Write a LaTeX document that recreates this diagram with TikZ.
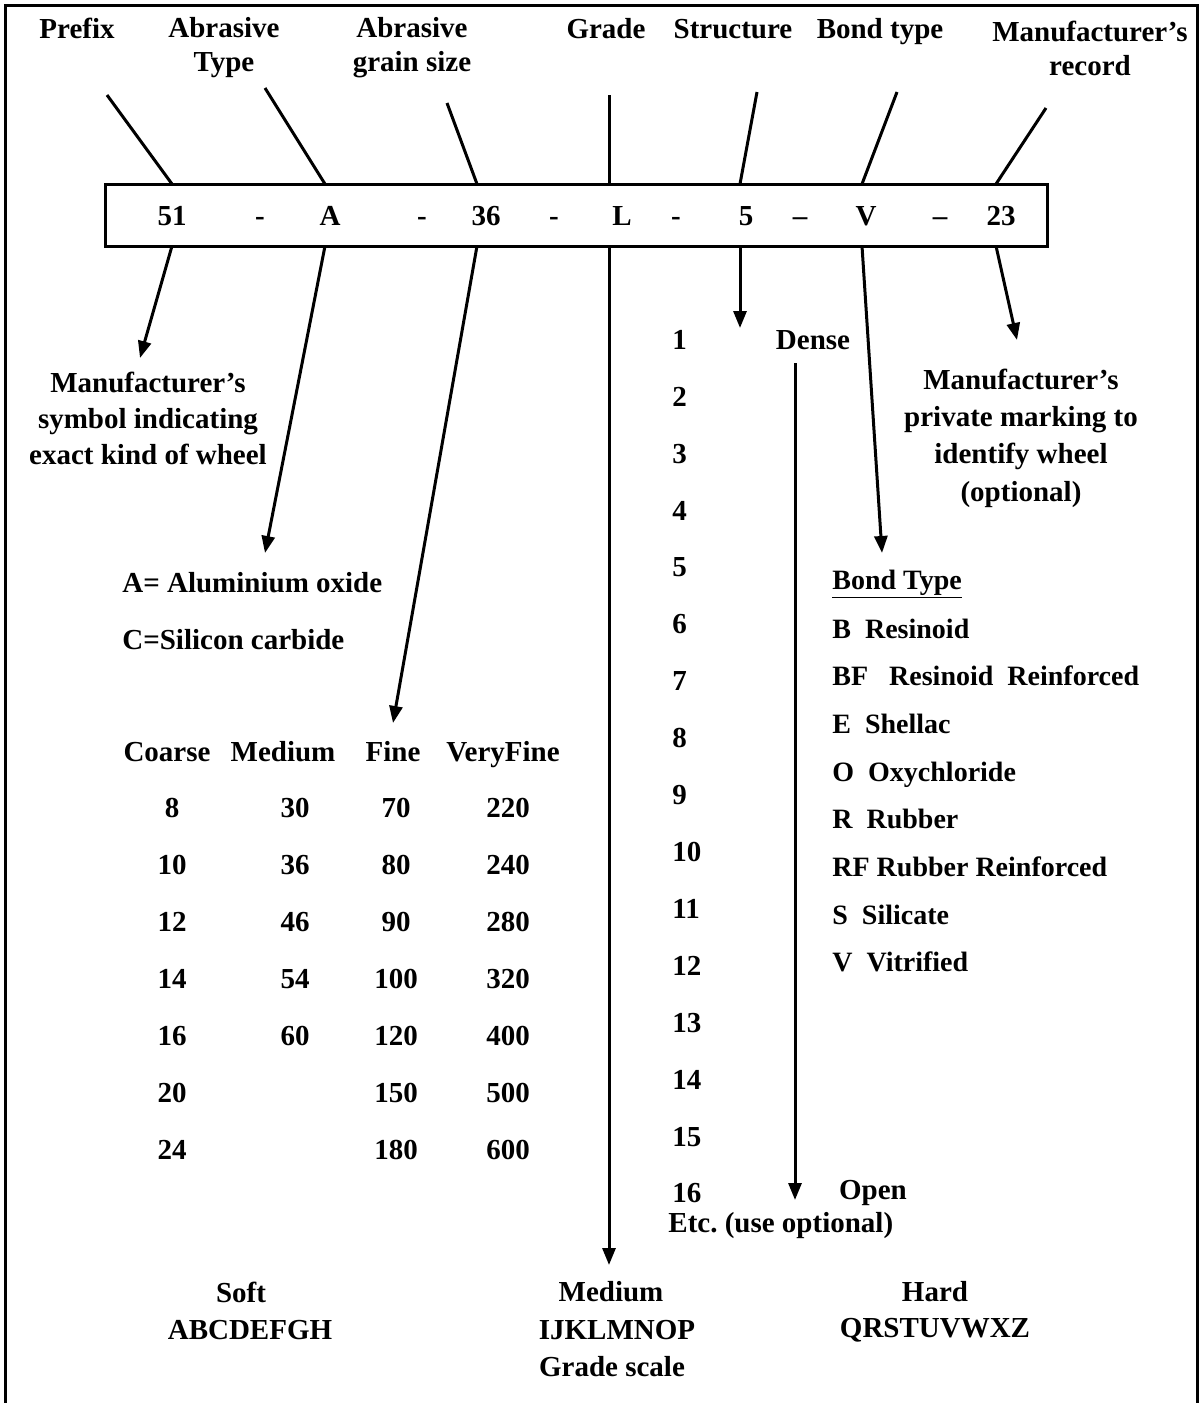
\documentclass[tikz,border=0pt]{standalone}
\usepackage{fontspec}
\setmainfont{Liberation Serif}
\usetikzlibrary{positioning,arrows.meta}

\begin{document}
\begin{tikzpicture}[x=0.5pt,y=-0.5pt,
		every node/.style={font=\fontsize{14.5}{18}\selectfont\bfseries,inner sep=0pt},
		lbl/.style={align=center},
		toplbl/.style={align=center,font=\fontsize{14.5}{17}\selectfont\bfseries},
		bondlbl/.style={anchor=base west,font=\fontsize{14}{17}\selectfont\bfseries},
		ln/.style={line width=1.5pt},
		arr/.style={line width=1.5pt,-{Triangle[length=8.5pt,width=6.5pt]}}]
		\useasboundingbox (0,0) rectangle (1201,1403);
		\draw[line width=1.5pt] (5,1403)--(5,5)--(1197,5)--(1197,1403);
		
		% labels on top
		\node[anchor=base] (prefix) at (77,38) {Prefix};
		\node[toplbl] (abrtype) at (224,48) {Abrasive\\Type};
		\node[toplbl] (grainsize) at (412,48) {Abrasive\\grain size};
		\node[anchor=base] (grade) at (606,38) {Grade};
		\node[anchor=base] (structure) at (733,38) {Structure};
		\node[anchor=base] (bondtype) at (880,38) {Bond type};
		\node[toplbl] (mrecord) at (1090,48) {Manufacturer’s\\record};
		
		% the marking
		\node[draw,line width=1.5pt,minimum width=471pt,minimum height=31pt] (code) at (576,215) {};
		\foreach \x/\t/\n in {172/51/c51,260/-/d1,330/A/cA,422/-/d2,486/36/c36,554/-/d3,622/L/cL,676/-/d4,746/5/c5,800/--/d5,866/V/cV,940/--/d6,1001/23/c23}
			\node[anchor=base] (\n) at (\x,225) {\t};
		
		\foreach \n/\x in {a/172,b/325,c/477,d/609,e/740,f/862,g/996}{
			\coordinate (\n top) at (\x,184);
			\coordinate (\n bot) at (\x,246);
		}
		\coordinate (pa) at (107,95);
		\coordinate (pb) at (265,88);
		\coordinate (pc) at (447,103);
		\coordinate (pd) at (609,95);
		\coordinate (pe) at (757,92);
		\coordinate (pf) at (897,92);
		\coordinate (pg) at (1046,108);
		\foreach \n in {a,b,c,d,e,f,g}
			\draw[ln] (p\n)--(\n top);
		
		% what each part means
		\node[lbl] (msym) at (148,418) {Manufacturer’s\\symbol indicating\\exact kind of wheel};
		\node[anchor=west] (alox) at (122,583) {A= Aluminium oxide};
		\node[anchor=west] (sic) at (122,640) {C=Silicon carbide};
		\node[lbl,font=\fontsize{14.5}{18.7}\selectfont\bfseries] (mpriv) at (1021,438) {Manufacturer’s\\private marking to\\identify wheel\\(optional)};
		
		\coordinate (ta) at (140,358);
		\coordinate (tb) at (265,553);
		\coordinate (tc) at (393,723);
		\coordinate (td) at (609,1265);
		\coordinate (te) at (740,328);
		\coordinate (tf) at (882,553);
		\coordinate (tg) at (1017,340);
		\foreach \n in {a,b,c,d,e,f,g}
			\draw[arr] (\n bot)--(t\n);
		
		% grain size table
		\node[anchor=base] (hc) at (167,761) {Coarse};
		\node[anchor=base] (hm) at (283,761) {Medium};
		\node[anchor=base] (hf) at (393,761) {Fine};
		\node[anchor=base] (hv) at (503,761) {VeryFine};
		\foreach \c/\m/\f/\v [count=\i] in {8/30/70/220,10/36/80/240,12/46/90/280,14/54/100/320,16/60/120/400,20//150/500,24//180/600}{
			\node (gc\i) at (172,{808+(\i-1)*57}) {\c};
			\node (gm\i) at (295,{808+(\i-1)*57}) {\m};
			\node (gf\i) at (396,{808+(\i-1)*57}) {\f};
			\node (gv\i) at (508,{808+(\i-1)*57}) {\v};
		}
		
		% structure numbers
		\foreach \n in {1,...,16}
			\node[anchor=west] (s\n) at (672,{340+(\n-1)*56.9}) {\n};
		\node (dense) at (813,340) {Dense};
		\node (open) at (873,1193) {Open};
		\node[anchor=west] (etc) at (668,1226) {Etc.\ (use optional)};
		\coordinate (dtop) at (795,363);
		\coordinate (dend) at (795,1200);
		\draw[arr] (dtop)--(dend);
		
		% bond types
		\node[bondlbl] (bhead) at (832,589) {\underline{Bond Type}};
		\foreach \t [count=\i] in {B\ \ Resinoid,BF\ \ \ Resinoid\ \ Reinforced,E\ \ Shellac,O\ \ Oxychloride,R\ \ Rubber,RF Rubber Reinforced,S\ \ Silicate,V\ \ Vitrified}
			\node[bondlbl] (b\i) at (832,{638+(\i-1)*47.7}) {\t};
		
		% grade scale
		\node (soft) at (241,1292) {Soft};
		\node (softl) at (250,1330) {ABCDEFGH};
		\node (med) at (611,1292) {Medium};
		\node (medl) at (617,1330) {IJKLMNOP};
		\node (gscale) at (612,1367) {Grade scale};
		\node (hard) at (935,1292) {Hard};
		\node (hardl) at (935,1330) {QRSTUVWXZ};
	\end{tikzpicture}
\end{document}
